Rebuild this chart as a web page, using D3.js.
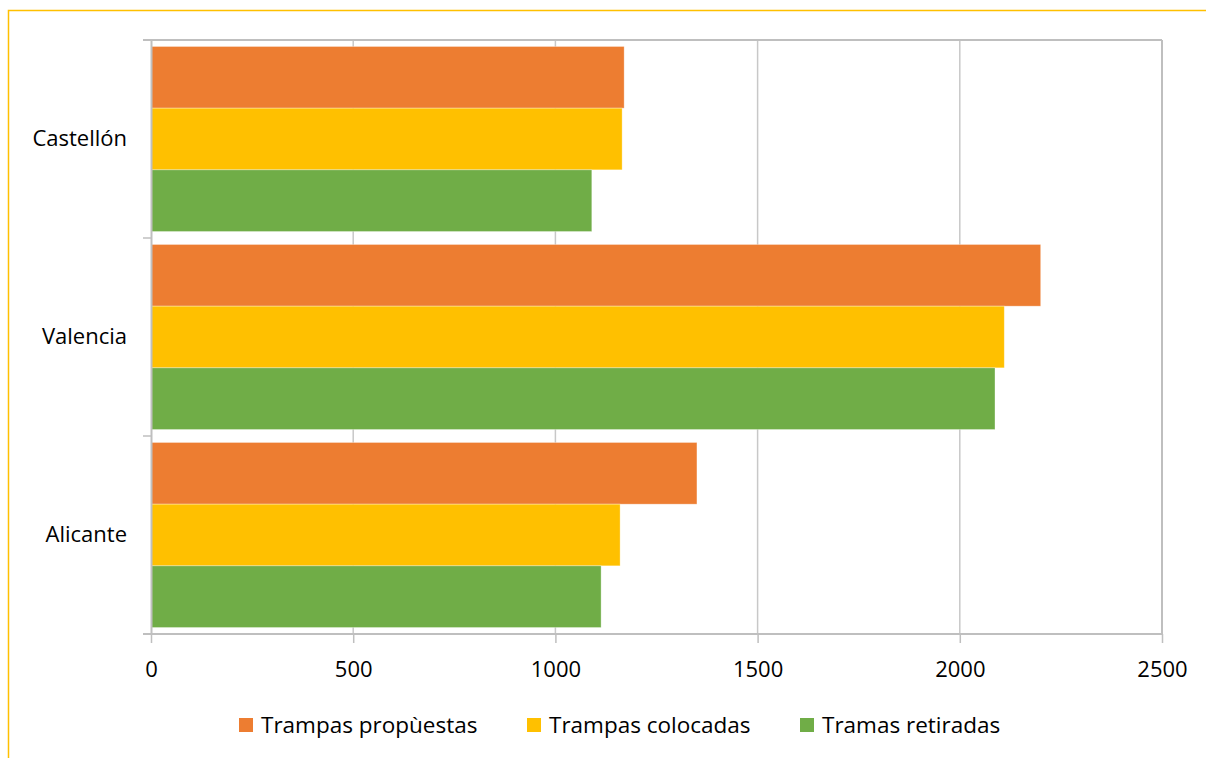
<!DOCTYPE html>
<html>
<head>
<meta charset="utf-8">
<script src="https://cdn.jsdelivr.net/npm/d3@7"></script>
<style>
  body { margin: 0; background: #fff; }
  text { font-family: "Open Sans", "Noto Sans", sans-serif; fill: #000; }
</style>
</head>
<body>
<svg id="chart" width="1206" height="758"></svg>
<script>
let provinces = ["Castellón", "Valencia", "Alicante"]
let seriesNames = ["Trampas propùestas", "Trampas colocadas", "Tramas retiradas"]
let propuestas = [1170, 2200, 1350]
let colocadas = [1165, 2110, 1160]
let retiradas = [1090, 2087, 1113]
let xTicks = [0, 500, 1000, 1500, 2000, 2500]
let colors = ["#ED7D31", "#FFC000", "#70AD47"]

let width = 1206,
    height = 758,
    margins = {left: 151, right: 44, top: 40, bottom: 124},
    fontSize = 22

let svg = d3.select("#chart")

// outer yellow frame
svg.append("rect")
  .attr("x", 8.5).attr("y", 10.5)
  .attr("width", 1220).attr("height", 780)
  .attr("fill", "none").attr("stroke", "#FFC000").attr("stroke-width", 1.5)

let data = provinces.map((p, i) => ({
  province: p,
  values: [propuestas[i], colocadas[i], retiradas[i]]
}))

let x = d3.scaleLinear()
  .domain([0, 2500])
  .range([margins.left, width - margins.right])

let y = d3.scaleBand()
  .domain(provinces)
  .range([margins.top, height - margins.bottom])

let inner = d3.scaleBand()
  .domain(d3.range(seriesNames.length))
  .range([0, y.bandwidth()])
  .paddingOuter(0.105)

// gridlines
svg.append("g")
  .selectAll("line")
  .data(xTicks.slice(1))
  .enter().append("line")
  .attr("x1", d => x(d)).attr("x2", d => x(d))
  .attr("y1", margins.top).attr("y2", height - margins.bottom)
  .attr("stroke", "#c8c8c8").attr("stroke-width", 1.5)

// top border
svg.append("line")
  .attr("x1", margins.left - 8).attr("x2", x(2500))
  .attr("y1", margins.top).attr("y2", margins.top)
  .attr("stroke", "#bfbfbf").attr("stroke-width", 2)

// bars
let groups = svg.append("g")
  .selectAll("g")
  .data(data).enter()
  .append("g")
  .attr("transform", d => `translate(0, ${y(d.province)})`)

groups.selectAll("rect")
  .data(d => d.values)
  .enter().append("rect")
  .attr("x", x(0))
  .attr("y", (d, i) => inner(i))
  .attr("width", d => x(d) - x(0))
  .attr("height", inner.bandwidth())
  .attr("fill", (d, i) => colors[i])
  .attr("stroke", "#fff").attr("stroke-opacity", 0.4).attr("stroke-width", 0.8)

// x axis
let xAxis = svg.append("g")
  .attr("transform", `translate(0, ${height - margins.bottom})`)
  .call(d3.axisBottom(x).tickValues(xTicks).tickFormat(d3.format("d"))
    .tickSize(9).tickPadding(18).tickSizeOuter(0))
xAxis.select(".domain").attr("stroke", "#bfbfbf").attr("stroke-width", 2)
  .attr("d", `M${margins.left - 8},0H${x(2500)}`)
xAxis.selectAll(".tick line").attr("stroke", "#bfbfbf").attr("stroke-width", 1.5)
xAxis.selectAll("text").attr("font-size", fontSize)

// y axis
let yAxis = svg.append("g")
  .attr("transform", `translate(${margins.left}, 0)`)
  .call(d3.axisLeft(y).tickSize(0).tickPadding(24))
yAxis.select(".domain").attr("stroke", "#bfbfbf").attr("stroke-width", 2)
yAxis.selectAll("text").attr("font-size", fontSize)
yAxis.selectAll(".sep")
  .data(d3.range(provinces.length + 1))
  .enter().append("line")
  .attr("x1", -8).attr("x2", 0)
  .attr("y1", i => margins.top + i * y.step())
  .attr("y2", i => margins.top + i * y.step())
  .attr("stroke", "#bfbfbf").attr("stroke-width", 1.5)

// right border
svg.append("line")
  .attr("x1", x(2500)).attr("x2", x(2500))
  .attr("y1", margins.top).attr("y2", height - margins.bottom)
  .attr("stroke", "#bfbfbf").attr("stroke-width", 2)

// legend
let legendX = [239, 527, 800]
let legend = svg.append("g")
  .selectAll("g")
  .data(seriesNames).enter()
  .append("g")
  .attr("transform", (d, i) => `translate(${legendX[i]}, 718)`)
legend.append("rect")
  .attr("width", 14).attr("height", 14)
  .attr("fill", (d, i) => colors[i])
legend.append("text")
  .attr("x", 22).attr("y", 7)
  .attr("dy", "0.35em")
  .attr("font-size", 22.5)
  .text(d => d)
</script>
</body>
</html>
